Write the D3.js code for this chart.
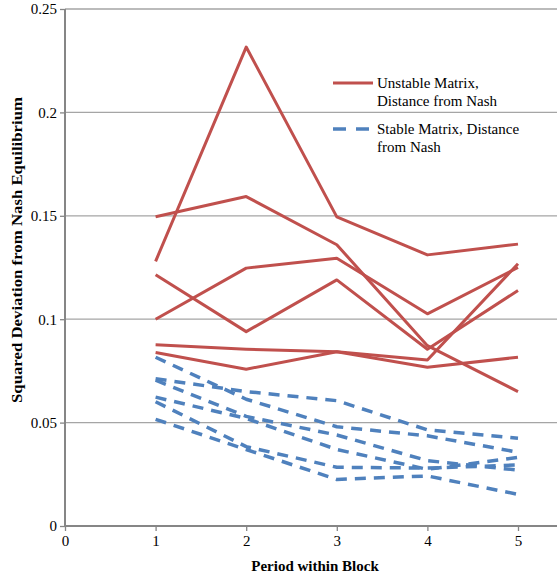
<!DOCTYPE html>
<html>
<head>
<meta charset="utf-8">
<script src="https://cdn.jsdelivr.net/npm/d3@7"></script>
<style>
  html, body { margin: 0; padding: 0; background: #fff; }
  svg { display: block; }
  text { font-family: "Liberation Serif", "Times New Roman", "DejaVu Serif", serif; fill: #000; }
</style>
</head>
<body>
<div id="chart"></div>
<script>
// ---- data ----
const periods = [1, 2, 3, 4, 5];
const xTickValues = [0, 1, 2, 3, 4, 5];
const yTickValues = [0, 0.05, 0.1, 0.15, 0.2, 0.25];

const unstable1 = [0.128, 0.2316, 0.1495, 0.1311, 0.1363];
const unstable2 = [0.1495, 0.1593, 0.136, 0.0872, 0.065];
const unstable3 = [0.100, 0.1247, 0.1295, 0.1026, 0.125];
const unstable4 = [0.1215, 0.094, 0.119, 0.0855, 0.1139];
const unstable5 = [0.0876, 0.0855, 0.0843, 0.0803, 0.1268];
const unstable6 = [0.0839, 0.0758, 0.0843, 0.0768, 0.0816];

const stable1 = [0.0816, 0.0613, 0.048, 0.0436, 0.0357];
const stable2 = [0.0712, 0.065, 0.0606, 0.0465, 0.0424];
const stable3 = [0.0705, 0.053, 0.044, 0.0316, 0.027];
const stable4 = [0.0623, 0.052, 0.037, 0.0274, 0.0332];
const stable5 = [0.0601, 0.0384, 0.0284, 0.028, 0.0295];
const stable6 = [0.0516, 0.037, 0.0225, 0.0242, 0.0153];

const unstableSeries = [unstable1, unstable2, unstable3, unstable4, unstable5, unstable6];
const stableSeries = [stable1, stable2, stable3, stable4, stable5, stable6];

const legendLabels = [
  ["Unstable Matrix,", "Distance from Nash"],
  ["Stable Matrix, Distance", "from Nash"]
];
const xTitle = "Period within Block";
const yTitle = "Squared Deviation from Nash Equilibrium";

// ---- layout ----
const W = 557, H = 578;
const FONT = '"Liberation Serif", "Times New Roman", "DejaVu Serif", serif';
const red = "#c0504d", blue = "#4f81bd";
const svg = d3.select("#chart").append("svg").attr("width", W).attr("height", H)
  .attr("font-family", FONT);

const x = d3.scaleLinear().domain([0, 6]).range([65, 65 + 6 * 90.6]);
const y = d3.scaleLinear().domain([0, 0.25]).range([526, 9]);

// gridlines
svg.append("g").selectAll("line").data(yTickValues.filter(d => d > 0)).join("line")
  .attr("x1", x(0)).attr("x2", x(6))
  .attr("y1", d => y(d)).attr("y2", d => y(d))
  .attr("stroke", "#a5a5a5").attr("stroke-width", 1.3);

// axes
const yAxis = svg.append("g").attr("transform", `translate(${x(0)},0)`)
  .call(d3.axisLeft(y).tickValues(yTickValues).tickSize(5).tickPadding(3)
    .tickFormat(d => d === 0 ? "0" : String(+d.toFixed(2))));
const xAxis = svg.append("g").attr("transform", `translate(0,${y(0)})`)
  .call(d3.axisBottom(x).tickValues(xTickValues).tickSize(5).tickPadding(4).tickFormat(d3.format("d")));
[yAxis, xAxis].forEach(g => {
  g.attr("font-family", FONT).attr("font-size", 15);
  g.select(".domain").attr("stroke", "#868686").attr("stroke-width", 2);
  g.selectAll(".tick line").attr("stroke", "#868686").attr("stroke-width", 1.3);
  g.selectAll(".tick text").attr("font-family", FONT).attr("font-size", 15).attr("fill", "#000");
});
yAxis.select(".domain").attr("d", `M0,${y(0)}V${y(0.25)}`);
xAxis.select(".domain").attr("d", `M${x(0)},0H${x(6)}`);

// lines
const line = d3.line().x((d, i) => x(periods[i])).y(d => y(d));
svg.append("g").selectAll("path").data(stableSeries).join("path")
  .attr("d", line).attr("fill", "none").attr("stroke", blue)
  .attr("stroke-width", 3.5).attr("stroke-dasharray", "11,8").attr("stroke-linejoin", "round");
svg.append("g").selectAll("path").data(unstableSeries).join("path")
  .attr("d", line).attr("fill", "none").attr("stroke", red)
  .attr("stroke-width", 3).attr("stroke-linejoin", "round");

// legend
const lg = svg.append("g");
lg.append("line").attr("x1", 333).attr("x2", 373).attr("y1", 83).attr("y2", 83)
  .attr("stroke", red).attr("stroke-width", 3);
lg.append("line").attr("x1", 333).attr("x2", 373).attr("y1", 129).attr("y2", 129)
  .attr("stroke", blue).attr("stroke-width", 3.5).attr("stroke-dasharray", "13,10");
legendLabels.forEach((lines, k) => {
  const t = lg.append("text").attr("x", 377).attr("y", [88, 134][k])
    .attr("font-family", FONT).attr("font-size", 15);
  lines.forEach((s, j) => t.append("tspan").attr("x", 377).attr("dy", j === 0 ? 0 : 17.5).text(s));
});

// titles
svg.append("text").attr("x", 315).attr("y", 571)
  .attr("text-anchor", "middle").attr("font-family", FONT)
  .attr("font-size", 15).attr("font-weight", "bold").text(xTitle);
svg.append("text").attr("transform", `translate(22,250) rotate(-90)`)
  .attr("text-anchor", "middle").attr("font-family", FONT)
  .attr("font-size", 15).attr("font-weight", "bold")
  .attr("textLength", 306).attr("lengthAdjust", "spacingAndGlyphs").text(yTitle);
</script>
</body>
</html>
